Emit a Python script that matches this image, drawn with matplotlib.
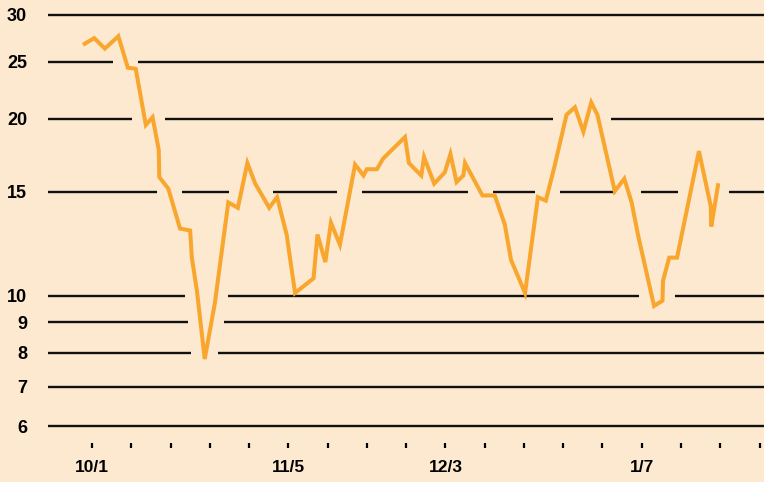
import matplotlib
matplotlib.use("Agg")
import matplotlib.pyplot as plt
import numpy as np

# days after 10/1
day_offset = [-1.3, 0.4, 2.3, 4.7, 6.4, 7.8, 9.6, 10.8, 11.9, 12.0,
              13.6, 15.7, 17.5, 17.8, 18.7, 20.1, 21.9, 24.3, 26.0, 27.7,
              29.1, 31.6, 33.0, 34.7, 36.2, 39.5, 40.2, 41.6, 42.6, 44.2,
              46.9, 48.4, 49.0, 50.8, 51.9, 55.8, 56.5, 58.7, 59.2, 61.0,
              62.9, 63.9, 65.0, 66.2, 66.5, 69.6, 71.8, 73.6, 74.7, 77.2,
              79.5, 80.9, 82.4, 84.6, 86.1, 87.6, 89.0, 90.1, 93.2, 94.9,
              96.2, 97.4, 100.2, 101.7, 101.8, 102.9, 104.3, 108.2, 110.3, 110.4,
              111.6]
values = [26.8, 27.4, 26.3, 27.6, 24.4, 24.3, 19.5, 20.1, 17.7, 15.9,
          15.2, 13.0, 12.9, 11.6, 10.2, 7.8, 9.7, 14.4, 14.1, 16.8,
          15.5, 14.1, 14.7, 12.7, 10.1, 10.7, 12.7, 11.4, 13.3, 12.2,
          16.7, 16.0, 16.4, 16.4, 17.1, 18.6, 16.8, 16.0, 17.2, 15.5,
          16.2, 17.4, 15.6, 16.0, 16.8, 14.8, 14.8, 13.2, 11.5, 10.1,
          14.7, 14.5, 16.5, 20.3, 20.9, 19.0, 21.3, 20.3, 15.05, 15.8,
          14.4, 12.6, 9.6, 9.8, 10.6, 11.6, 11.6, 17.6, 14.2, 13.1,
          15.4]

grid_levels = [6, 7, 8, 9, 10, 15, 20, 25, 30]
tick_days = list(range(0, 120, 7))
tick_labels = ['10/1', '', '', '', '', '11/5', '', '', '', '12/3',
               '', '', '', '', '1/7', '', '', '']

bg = '#fde9cf'
orange = '#f9a62e'

plt.rcParams['font.family'] = ['Liberation Sans', 'DejaVu Sans']
plt.rcParams['font.weight'] = 'bold'

fig = plt.figure(figsize=(7.64, 4.82), dpi=100, facecolor=bg)
ax = fig.add_axes([48 / 764, 39 / 482, 716 / 764, 443 / 482])
ax.set_facecolor(bg)
ax.set_yscale('log')
ax.set_xlim(-7.84, 119.8)
ax.set_ylim(5.614, 31.81)
for s in ax.spines.values():
    s.set_visible(False)

ax.set_yticks(grid_levels)
ax.set_yticklabels([str(v) for v in grid_levels])
ax.yaxis.set_minor_locator(matplotlib.ticker.NullLocator())
ax.tick_params(axis='y', length=0, pad=15, labelsize=13)
ax.set_xticks(tick_days)
ax.set_xticklabels(tick_labels)
ax.tick_params(axis='x', direction='out', length=3.6, width=1.6,
               pad=9, labelsize=12.5, color='black')

# gridlines, broken where the line crosses them
fig.canvas.draw()
x = np.array(day_offset)
ly = np.log(values)
px_per_day = (ax.transData.transform((1, 10))[0] - ax.transData.transform((0, 10))[0])
half_gap = 12.5 / px_per_day
x0, x1 = ax.get_xlim()
for lev in grid_levels:
    lv = np.log(lev)
    cross = []
    for i in range(len(x) - 1):
        a, b = ly[i] - lv, ly[i + 1] - lv
        if a * b < 0:
            cross.append(x[i] + (x[i + 1] - x[i]) * a / (a - b))
    gaps = []
    for c in cross:
        g0, g1 = c - half_gap, c + half_gap
        if gaps and g0 <= gaps[-1][1]:
            gaps[-1][1] = g1
        else:
            gaps.append([g0, g1])
    start = x0
    for g0, g1 in gaps:
        ax.hlines(lev, start, g0, color='#111111', lw=1.7, zorder=1)
        start = g1
    if start < x1:
        ax.hlines(lev, start, x1, color='#111111', lw=1.7, zorder=1)

ax.plot(day_offset, values, color=orange, lw=2.9, zorder=3,
        solid_joinstyle='miter')

fig.savefig('out.png', dpi=100, facecolor=bg)
